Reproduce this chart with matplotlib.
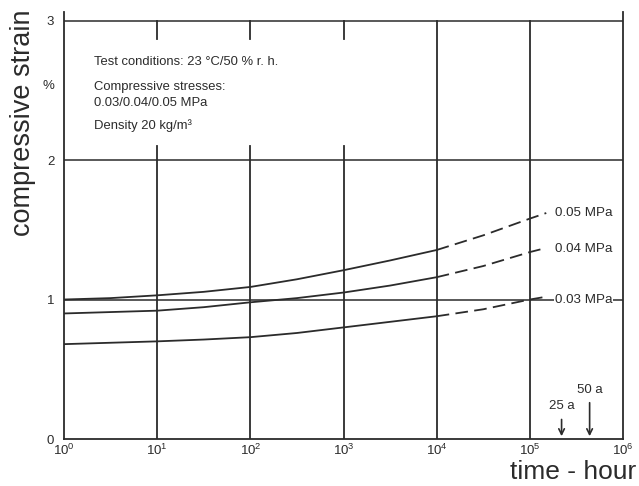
import numpy as np
import matplotlib
matplotlib.use("Agg")
import matplotlib.pyplot as plt

plt.rcParams['font.family'] = ['Liberation Sans', 'DejaVu Sans']
plt.rcParams['mathtext.fontset'] = 'custom'
plt.rcParams['mathtext.rm'] = 'Liberation Sans'
plt.rcParams['mathtext.it'] = 'Liberation Sans:italic'
plt.rcParams['mathtext.bf'] = 'Liberation Sans:bold'

# data
hours = [1, 3.16, 10, 31.6, 100, 316, 1000, 3162, 10000, 31623, 100000, 150000]
strain_005 = [1.00, 1.01, 1.03, 1.055, 1.09, 1.145, 1.21, 1.28, 1.355, 1.46, 1.58, 1.62]
strain_004 = [0.90, 0.91, 0.92, 0.945, 0.98, 1.01, 1.05, 1.10, 1.16, 1.24, 1.34, 1.37]
strain_003 = [0.68, 0.69, 0.70, 0.713, 0.73, 0.76, 0.80, 0.84, 0.88, 0.93, 1.00, 1.02]
solid_count = 9  # measured part up to 10^4 h, extrapolated (dashed) beyond
series_labels = ["0.05 MPa", "0.04 MPa", "0.03 MPa"]
label_y = [1.62, 1.36, 1.00]
decades = [1, 10, 100, 1000, 10000, 100000, 1000000]
decade_labels = [r"$\mathregular{10^{%d}}$" % i for i in range(7)]
y_ticks = [0, 1, 2, 3]
arrow_hours = [25 * 8760, 50 * 8760]
arrow_labels = ["25 a", "50 a"]
arrow_tops = [0.16, 0.28]

fig = plt.figure(figsize=(6.39, 4.86), dpi=100)
ax = fig.add_axes([0.1002, 0.0967, 0.9750 - 0.1002, 0.975 - 0.0967])
ax.set_xscale('log')
ax.set_xlim(1, 1e6)
ax.set_ylim(0, 3.06)

c = '#2b2b2b'
# horizontal grid lines
for yv in [1, 2, 3]:
    ax.plot([1, 1e6], [yv, yv], color=c, lw=1.1, zorder=1)
# vertical grid lines (with gaps behind the text block)
for d in decades[1:-1]:
    if d in (10, 100, 1000):
        ax.plot([d, d], [0, 2.1], color=c, lw=1.3, zorder=1)
        ax.plot([d, d], [2.87, 3.0], color=c, lw=1.3, zorder=1)
    else:
        ax.plot([d, d], [0, 3.0], color=c, lw=1.3, zorder=1)

for s, lab, ly in zip([strain_005, strain_004, strain_003], series_labels, label_y):
    ax.plot(hours[:solid_count], s[:solid_count], color=c, lw=1.3, zorder=2)
    ax.plot(hours[solid_count - 1:], s[solid_count - 1:], color=c, lw=1.3,
            ls=(0, (7, 3.5)), zorder=2)
    ax.text(1.85e5, ly, lab, fontsize=9.6, va='center', ha='left', color=c,
            bbox=dict(facecolor='white', edgecolor='none', pad=0.5), zorder=3)

ax.spines['top'].set_visible(False)
for spine in ['left', 'bottom', 'right']:
    ax.spines[spine].set_color(c)
    ax.spines[spine].set_linewidth(1.3)

ax.set_xticks(decades)
ax.set_xticklabels(decade_labels)
ax.xaxis.set_minor_locator(matplotlib.ticker.NullLocator())
ax.set_yticks(y_ticks)
ax.set_yticklabels([str(v) for v in y_ticks])
ax.tick_params(axis='both', length=0, labelsize=9.5, colors=c)
ax.tick_params(axis='x', pad=3)
ax.tick_params(axis='y', pad=7)

ax.set_ylabel("compressive strain", fontsize=19.5, color=c)
ax.yaxis.set_label_coords(-0.05, 0.742)
ax.text(-0.018, 2.53, "%", transform=ax.get_yaxis_transform(), fontsize=9.5,
        ha='right', va='center', color=c)
fig.text(636 / 639, 1 - 472 / 486, "time - hour", fontsize=19, color=c,
         ha='right', va='center')

# annotations
tx = 2.1
fs = 9.4
ax.text(tx, 2.70, "Test conditions: 23 °C/50 % r. h.", fontsize=fs, color=c, va='center')
ax.text(tx, 2.525, "Compressive stresses:", fontsize=fs, color=c, va='center')
ax.text(tx, 2.41, "0.03/0.04/0.05 MPa", fontsize=fs, color=c, va='center')
ax.text(tx, 2.245, "Density 20 kg/m³", fontsize=fs, color=c, va='center')

for h, lab, top in zip(arrow_hours, arrow_labels, arrow_tops):
    ax.annotate("", xy=(h, 0.0), xytext=(h, top),
                arrowprops=dict(arrowstyle='->', color=c, lw=1.2))
    ax.text(h, top + 0.03, lab, fontsize=9.5, ha='center', va='bottom', color=c)

fig.savefig("out.png", dpi=100)
